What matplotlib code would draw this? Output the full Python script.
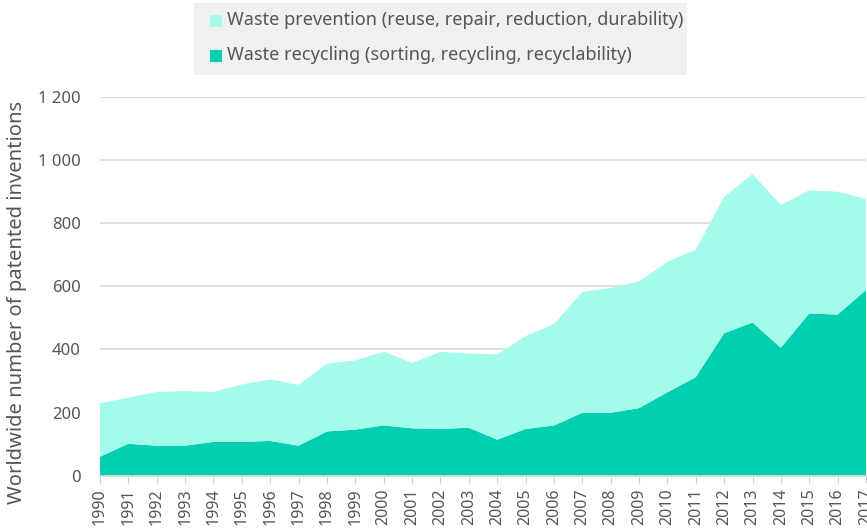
import matplotlib
matplotlib.use("Agg")
import matplotlib.pyplot as plt
from matplotlib.patches import Rectangle
from matplotlib.ticker import FuncFormatter
import numpy as np

years = list(range(1990, 2018))
recycling = [60, 101, 95, 95, 107, 107, 110, 95, 140, 146, 159, 150, 148, 152,
             114, 148, 159, 199, 199, 214, 264, 312, 451, 485, 405, 514, 510, 588]
total = [229, 247, 265, 268, 265, 289, 305, 288, 355, 365, 393, 357, 392, 387,
         384, 442, 480, 582, 594, 615, 677, 716, 883, 955, 857, 904, 899, 876]
prevention = [t - r for t, r in zip(total, recycling)]

labels = ["Waste prevention (reuse, repair, reduction, durability)",
          "Waste recycling (sorting, recycling, recyclability)"]
c_prev = "#a4fbec"
c_rec = "#00cfb0"
text_c = "#555555"

plt.rcParams['font.family'] = ['Noto Sans', 'DejaVu Sans']

W, H = 867, 529
fig = plt.figure(figsize=(W/100, H/100), dpi=100)
ax = fig.add_axes([100/W, (H-475.7)/H, 766/W, 379/H])

ax.stackplot(years, recycling, prevention, colors=[c_rec, c_prev], linewidth=0)

ax.set_xlim(1990, 2017)
ax.set_ylim(0, 1200)
ax.set_yticks([0, 200, 400, 600, 800, 1000, 1200])
ax.yaxis.set_major_formatter(FuncFormatter(lambda v, p: f"{int(v):,}".replace(",", " ")))
ax.set_xticks(years)
ax.set_xticklabels([str(y) for y in years], rotation=90)
ax.grid(axis='y', color='#d9d9d9', linewidth=1.2)
ax.set_axisbelow(True)
for s in ['top', 'right', 'left']:
    ax.spines[s].set_visible(False)
ax.spines['bottom'].set_color('#d9d9d9')
ax.spines['bottom'].set_linewidth(1.2)
ax.tick_params(axis='y', length=0, labelsize=12, labelcolor=text_c, pad=14)
ax.tick_params(axis='x', length=5, color='#d0d0d0', labelsize=11.5, labelcolor=text_c, pad=4)
ax.set_ylabel("Worldwide number of patented inventions", fontsize=14.5, color=text_c)
ax.yaxis.set_label_coords((27 - 100) / 766, 0.458)

# legend box drawn in figure pixels
def fx(x): return x / W
def fy(y): return 1 - y / H

fig.patches.append(Rectangle((fx(194), fy(75)), (687-194)/W, (75-3)/H,
                             transform=fig.transFigure, facecolor='#f0f0f0',
                             edgecolor='none', zorder=0))
for i, (lab, col) in enumerate(zip(labels, [c_prev, c_rec])):
    yc = 21 + 35 * i
    fig.patches.append(Rectangle((fx(210), fy(yc + 6)), 12/W, 12/H,
                                 transform=fig.transFigure, facecolor=col,
                                 edgecolor='none', zorder=1))
    fig.text(fx(227), fy(yc - 1), lab, fontsize=13, color=text_c, va='center', ha='left')

fig.savefig("out.png", dpi=100)
